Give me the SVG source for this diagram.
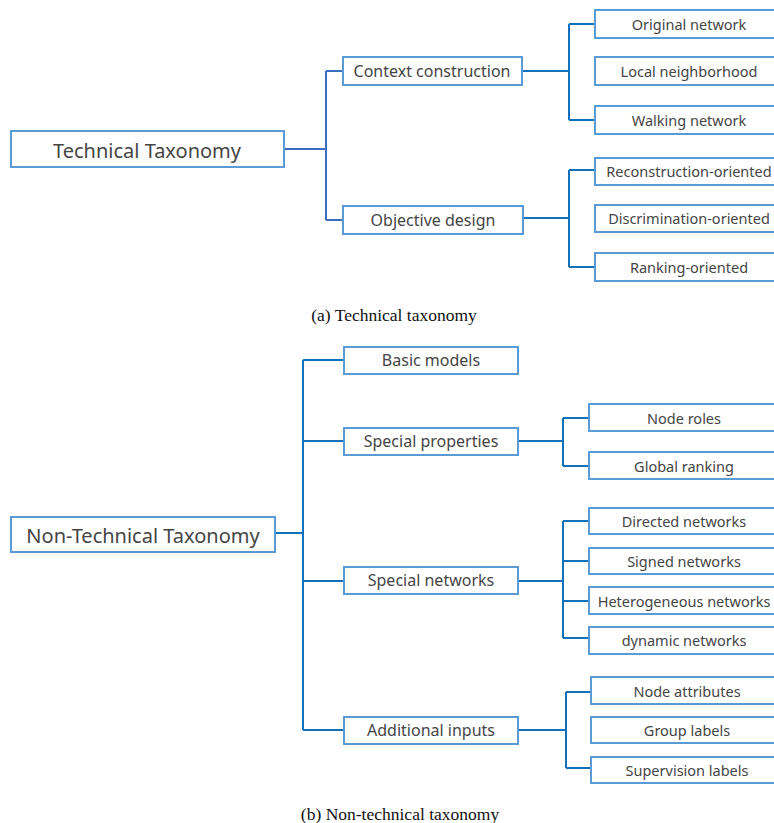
<svg xmlns="http://www.w3.org/2000/svg" width="774" height="823" viewBox="0 0 774 823">
<style>
.box{fill:#fff;stroke:#5B9BD5;stroke-width:2}
.t{font-family:"Noto Sans","Open Sans",sans-serif;fill:#454545;text-anchor:middle;dominant-baseline:central}
.r{font-size:20px}
.m{font-size:16px}
.l{font-size:14.5px}
.cap{font-family:"Liberation Serif",serif;font-size:17.5px;fill:#111;text-anchor:middle}
.c1{fill:none;stroke:#3A6FC0;stroke-width:2}
.c{fill:none;stroke:#1070BA;stroke-width:2}
</style>
<rect width="774" height="823" fill="#fff"/>
<g id="connectors">
<path class="c1" d="M284 149H326M326 71V220M326 71H343M326 220H343"/>
<path class="c" d="M522 71H569M569 24V120M569 24H595M569 120H595"/>
<path class="c" d="M523 218H569M569 170V267M569 170H595M569 267H595"/>
<path class="c" d="M275 533H303M303 360V730M303 360H344M303 441H344M303 581H344M303 730H344"/>
<path class="c" d="M518 441H563M563 418V466M563 418H589M563 466H589"/>
<path class="c" d="M518 581H563M563 521V638M563 521H589M563 561H589M563 601H589M563 638H589"/>
<path class="c" d="M518 730H566M566 692V768M566 692H591M566 768H591"/>
</g>
<g id="technical-taxonomy"><rect class="box" x="11" y="131" width="273" height="36"/><text class="t r" x="147" y="150">Technical Taxonomy</text></g>
<g id="context-construction"><rect class="box" x="343" y="57" width="179" height="28"/><text class="t m" x="432" y="71">Context construction</text></g>
<g id="objective-design"><rect class="box" x="343" y="206" width="180" height="28"/><text class="t m" x="433" y="220">Objective design</text></g>
<g id="original-network"><rect class="box" x="595" y="10" width="190" height="28"/><text class="t l" x="689" y="24">Original network</text></g>
<g id="local-neighborhood"><rect class="box" x="595" y="57" width="190" height="28"/><text class="t l" x="689" y="71">Local neighborhood</text></g>
<g id="walking-network"><rect class="box" x="595" y="106" width="190" height="28"/><text class="t l" x="689" y="120">Walking network</text></g>
<g id="reconstruction-oriented"><rect class="box" x="595" y="158" width="190" height="27"/><text class="t l" x="689" y="171">Reconstruction-oriented</text></g>
<g id="discrimination-oriented"><rect class="box" x="595" y="205" width="190" height="27"/><text class="t l" x="689" y="218">Discrimination-oriented</text></g>
<g id="ranking-oriented"><rect class="box" x="595" y="253" width="190" height="28"/><text class="t l" x="689" y="267">Ranking-oriented</text></g>
<text class="cap" x="394" y="321">(a)  Technical taxonomy</text>
<g id="non-technical-taxonomy"><rect class="box" x="11" y="517" width="264" height="35"/><text class="t r" x="143" y="535">Non-Technical Taxonomy</text></g>
<g id="basic-models"><rect class="box" x="344" y="347" width="174" height="27"/><text class="t m" x="431" y="360">Basic models</text></g>
<g id="special-properties"><rect class="box" x="344" y="428" width="174" height="27"/><text class="t m" x="431" y="441">Special properties</text></g>
<g id="special-networks"><rect class="box" x="344" y="567" width="174" height="27"/><text class="t m" x="431" y="580">Special networks</text></g>
<g id="additional-inputs"><rect class="box" x="344" y="717" width="174" height="27"/><text class="t m" x="431" y="730">Additional inputs</text></g>
<g id="node-roles"><rect class="box" x="589" y="404" width="190" height="27"/><text class="t l" x="684" y="418">Node roles</text></g>
<g id="global-ranking"><rect class="box" x="589" y="452" width="190" height="27"/><text class="t l" x="684" y="466">Global ranking</text></g>
<g id="directed-networks"><rect class="box" x="589" y="508" width="190" height="26"/><text class="t l" x="684" y="521">Directed networks</text></g>
<g id="signed-networks"><rect class="box" x="589" y="548" width="190" height="26"/><text class="t l" x="684" y="561">Signed networks</text></g>
<g id="heterogeneous-networks"><rect class="box" x="589" y="587" width="190" height="27"/><text class="t l" x="684" y="601">Heterogeneous networks</text></g>
<g id="dynamic-networks"><rect class="box" x="589" y="627" width="190" height="27"/><text class="t l" x="684" y="640">dynamic networks</text></g>
<g id="node-attributes"><rect class="box" x="591" y="677" width="190" height="27"/><text class="t l" x="687" y="691">Node attributes</text></g>
<g id="group-labels"><rect class="box" x="591" y="717" width="190" height="26"/><text class="t l" x="687" y="730">Group labels</text></g>
<g id="supervision-labels"><rect class="box" x="591" y="757" width="190" height="26"/><text class="t l" x="687" y="770">Supervision labels</text></g>
<text class="cap" x="400" y="820">(b)  Non-technical taxonomy</text>
</svg>
